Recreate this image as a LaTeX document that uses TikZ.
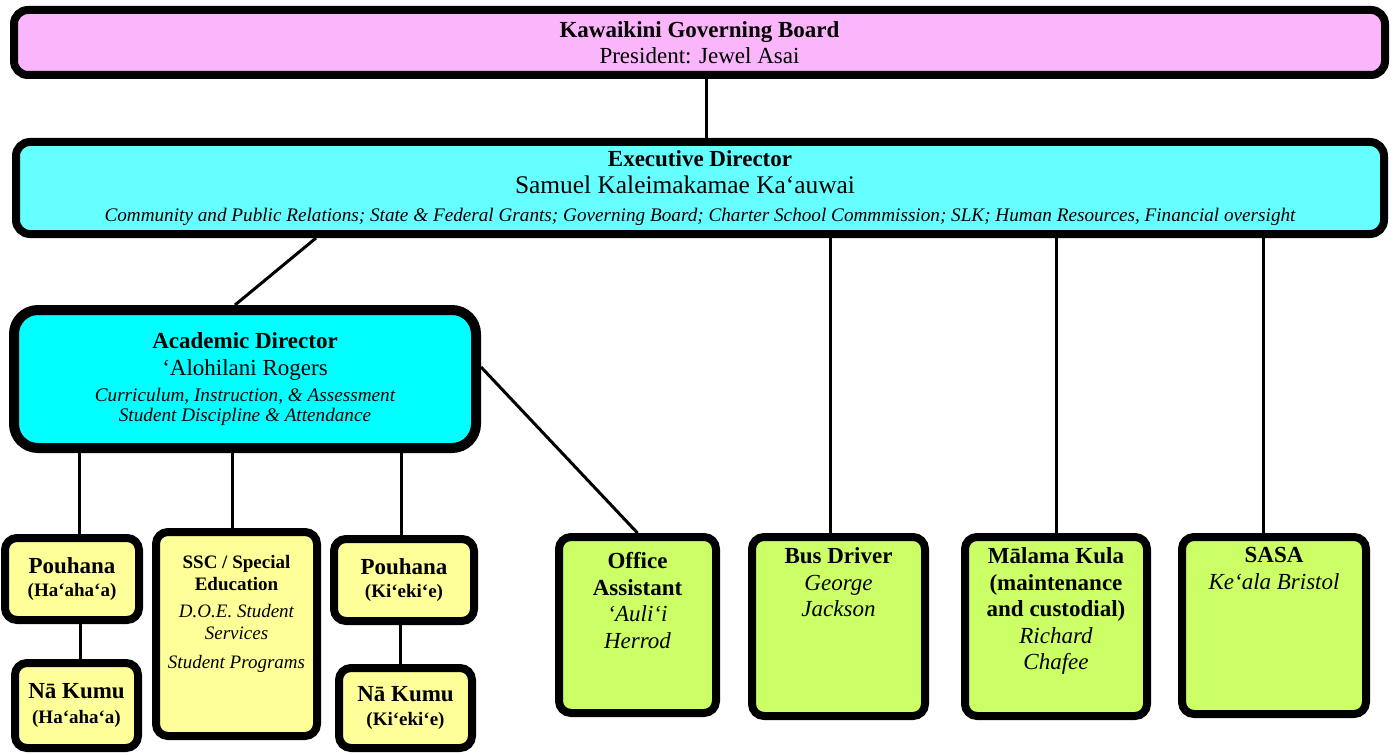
\documentclass[tikz,border=0pt]{standalone}
\usepackage{fontspec}
\setmainfont{Liberation Serif}

\definecolor{boardpink}{RGB}{251,181,251}
\definecolor{execcyan}{RGB}{102,255,255}
\definecolor{acadcyan}{RGB}{0,255,255}
\definecolor{staffyellow}{RGB}{255,255,153}
\definecolor{staffgreen}{RGB}{204,255,102}

\newcommand\mainsize{\fontsize{11.5}{13.3}\selectfont}
\newcommand\namesize{\fontsize{12.7}{13.5}\selectfont}
\newcommand\smallsize{\fontsize{9.5}{11}\selectfont}
\newcommand\notesize{\fontsize{9.6}{10.5}\selectfont}

\tikzset{every picture/.style={line width=1.5pt},
  orgbox/.style={draw, line width=4pt, rounded corners=7pt, inner sep=0pt, align=center, font=\mainsize},
  yellowbox/.style={orgbox, fill=staffyellow, rounded corners=6pt},
  greenbox/.style={orgbox, fill=staffgreen, rounded corners=6pt},
  boxtext/.style={anchor=north, inner sep=0pt, align=center, font=\mainsize},
  link/.style={draw, line width=1.5pt}}

\begin{document}
\begin{tikzpicture}[x=0.5pt,y=0.5pt,yscale=-1,xscale=1]
\useasboundingbox (0,0) rectangle (1395,754);

%Shape: Rounded Rectangle [board]
\node[orgbox, fill=boardpink, minimum width=685.5pt, minimum height=32.5pt] (board) at (699.5,42.5)
  {\textbf{Kawaikini Governing Board}\\President: Jewel Asai};
%Shape: Rounded Rectangle [exec]
\node[orgbox, fill=execcyan, minimum width=684pt, minimum height=46pt] (exec) at (700,188)
  {\textbf{Executive Director}\\{\namesize Samuel Kaleimakamae Ka‘auwai}\rule{15pt}{0pt}\\[0.5pt]
   {\notesize\itshape Community and Public Relations; State \& Federal Grants; Governing Board; Charter School Commmission; SLK; Human Resources, Financial oversight}};
%Shape: Rounded Rectangle [acad]
\node[orgbox, fill=acadcyan, line width=5pt, rounded corners=12pt, minimum width=231pt, minimum height=69pt] (acad) at (245,379)
  {\textbf{Academic Director}\\‘Alohilani Rogers\\[0pt]
   {\notesize\itshape Curriculum, Instruction, \& Assessment}\\[-3.5pt]
   {\notesize\itshape Student Discipline \& Attendance}};

%Shape: Rounded Rectangle [pouhana ha]
\node[yellowbox, minimum width=67pt, minimum height=41pt] (pouha) at (72,579)
  {\textbf{Pouhana}\\[-1.5pt]{\smallsize\bfseries (Ha‘aha‘a)}};
%Shape: Rounded Rectangle [kumu ha]
\node[yellowbox, minimum width=61.5pt, minimum height=42.5pt] (kumuha) at (76.5,705.5)
  {\textbf{Nā Kumu}\\[-1pt]{\smallsize\bfseries (Ha‘aha‘a)}};
%Shape: Rounded Rectangle [ssc]
\node[yellowbox, minimum width=80.5pt, minimum height=102pt] (ssc) at (236.5,634) {};
%Shape: Rounded Rectangle [pouhana ki]
\node[yellowbox, minimum width=70pt, minimum height=41pt] (pouki) at (404,580)
  {\textbf{Pouhana}\\[-1.5pt]{\smallsize\bfseries (Ki‘eki‘e)}};
%Shape: Rounded Rectangle [kumu ki]
\node[yellowbox, minimum width=66.5pt, minimum height=40pt] (kumuki) at (405.5,708)
  {\textbf{Nā Kumu}\\[-1pt]{\smallsize\bfseries (Ki‘eki‘e)}};

%Shape: Rounded Rectangle [office]
\node[greenbox, minimum width=78.5pt, minimum height=88pt] (office) at (637.5,625) {};
%Shape: Rounded Rectangle [bus]
\node[greenbox, minimum width=86.5pt, minimum height=89.5pt] (bus) at (838.5,626.5) {};
%Shape: Rounded Rectangle [malama]
\node[greenbox, minimum width=91pt, minimum height=89.5pt] (malama) at (1056,626.5) {};
%Shape: Rounded Rectangle [sasa]
\node[greenbox, minimum width=92pt, minimum height=88.5pt] (sasa) at (1274,625.5) {};

% Text Node
\node[boxtext, font=\smallsize] (ssc-txt) at ([yshift=13pt]ssc.north)
  {\textbf{SSC / Special}\\\textbf{Education}\\[2.5pt]
   {\itshape D.O.E. Student}\\{\itshape Services}\\[3.5pt]{\itshape Student Programs}};
% Text Node
\node[boxtext] (office-txt) at ([yshift=9pt]office.north)
  {\textbf{Office}\\\textbf{Assistant}\\{\itshape ‘Auli‘i}\\{\itshape Herrod}};
% Text Node
\node[boxtext] (bus-txt) at ([yshift=6.5pt]bus.north)
  {\textbf{Bus Driver}\\{\itshape George}\\{\itshape Jackson}};
% Text Node
\node[boxtext] (malama-txt) at ([yshift=6.5pt]malama.north)
  {\textbf{Mālama Kula}\\\textbf{(maintenance}\\\textbf{and custodial)}\\{\itshape Richard}\\{\itshape Chafee}};
% Text Node
\node[boxtext] (sasa-txt) at ([yshift=6.5pt]sasa.north)
  {\textbf{SASA}\\{\itshape Ke‘ala Bristol}};

%Straight Lines
\draw[link] ([xshift=3.5pt]board.south) -- ([xshift=3.5pt]board.south |- exec.north);
\draw[link] ([xshift=-192pt]exec.south) -- ([xshift=-5pt]acad.north);
\draw[link] ([yshift=-6pt]acad.east) -- (office.north);
\draw[link] ([xshift=-4pt]bus.north) -- ([xshift=-4pt]bus.north |- exec.south);
\draw[link] (malama.north) -- (malama.north |- exec.south);
\draw[link] ([xshift=-5.5pt]sasa.north) -- ([xshift=-5.5pt]sasa.north |- exec.south);
\draw[link] ([xshift=3.5pt]pouha.north) -- ([xshift=3.5pt]pouha.north |- acad.south);
\draw[link] ([xshift=-2pt]ssc.north) -- ([xshift=-2pt]ssc.north |- acad.south);
\draw[link] ([xshift=-1.5pt]pouki.north) -- ([xshift=-1.5pt]pouki.north |- acad.south);
\draw[link] ([xshift=4pt]pouha.south) -- ([xshift=4pt]pouha.south |- kumuha.north);
\draw[link] ([xshift=-2pt]pouki.south) -- ([xshift=-2pt]pouki.south |- kumuki.north);

\end{tikzpicture}
\end{document}
